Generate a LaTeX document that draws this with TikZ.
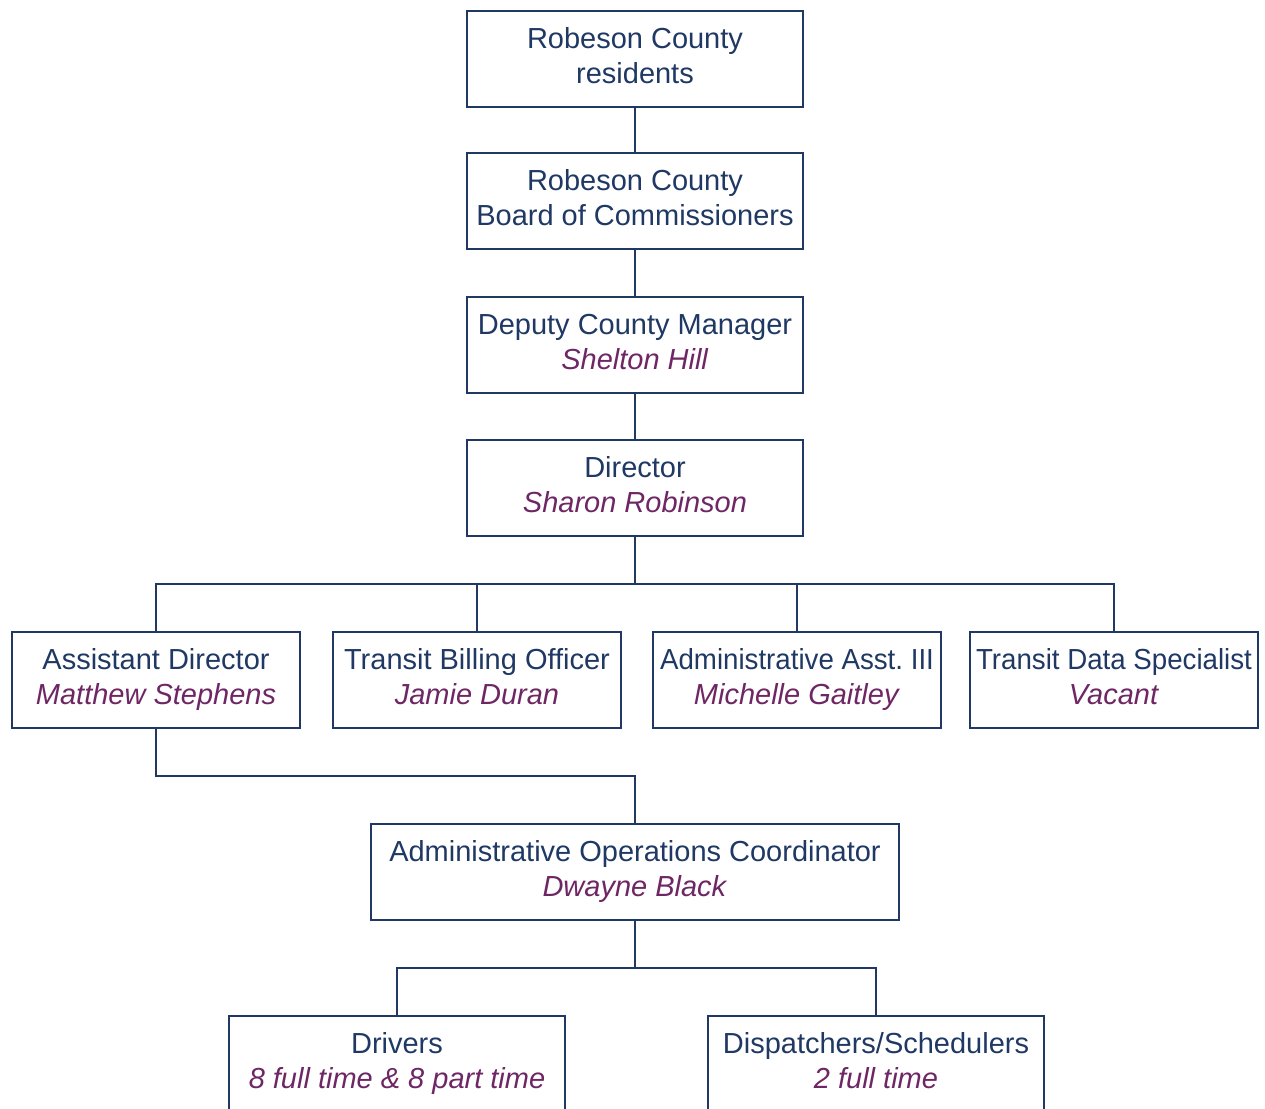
\documentclass[tikz,border=0pt]{standalone}
\usepackage{fontspec}
\setmainfont{Liberation Sans}
\usepackage{tikz}
\usetikzlibrary{positioning, calc}

\definecolor{navy}{RGB}{31,56,100}
\definecolor{plum}{RGB}{110,38,100}
\newcommand{\post}[2]{\strut#1\\\strut\textcolor{plum}{\textit{#2}}}
\frenchspacing

\begin{document}
\begin{tikzpicture}[x=0.02cm, y=-0.02cm,
    box/.style={draw=navy, line width=1.4pt, text=navy, align=center, inner sep=0pt,
        minimum height=1.92cm, font=\fontsize{16.5}{19.8}\selectfont},
    wide/.style={box, minimum width=6.72cm},
    mid/.style={box, minimum width=5.76cm},
    link/.style={draw=navy, line width=1.4pt}]
    \useasboundingbox (0,0) rectangle (1265,1109);

    % Top chain
    \node[wide] (res) at (635,59) {\strut Robeson County\\\strut residents};
    \node[wide] (board) at (635,201) {\strut Robeson County\\\strut Board of Commissioners};
    \node[wide] (dcm) at (635,345) {\post{Deputy County Manager}{Shelton Hill}};
    \node[wide] (dir) at (635,488) {\post{Director}{Sharon Robinson}};

    % Staff row
    \node[mid] (asst) at (156,680) {\post{Assistant Director}{Matthew Stephens}};
    \node[mid] (bill) at (477,680) {\post{Transit Billing Officer}{Jamie Duran}};
    \node[mid] (adm) at (797,680) {\post{\scalebox{0.955}[1]{Administrative Asst. III}}{Michelle Gaitley}};
    \node[mid] (data) at (1114,680) {\post{\scalebox{0.955}[1]{Transit Data Specialist}}{Vacant}};

    % Operations
    \node[box, minimum width=10.56cm] (aoc) at (635,872) {\post{Administrative Operations Coordinator}{Dwayne Black}};
    \node[wide] (drv) at (397,1064) {\post{Drivers}{8 full time \& 8 part time}};
    \node[wide] (disp) at (876,1064) {\post{Dispatchers/Schedulers}{2 full time}};

    % Connectors
    \coordinate (bus) at (635,584);
    \coordinate (elbow) at (635,776);
    \coordinate (bus2) at (635,968);
    \draw[link] (res) -- (board);
    \draw[link] (board) -- (dcm);
    \draw[link] (dcm) -- (dir);
    \draw[link] (dir) -- (bus);
    \draw[link] (asst.north) |- (bus) -| (data.north);
    \draw[link] (bill.north) -- (bill.north |- bus);
    \draw[link] (adm.north) -- (adm.north |- bus);
    \draw[link] (asst.south) |- (elbow) -- (aoc.north);
    \draw[link] (aoc) -- (bus2);
    \draw[link] (drv.north) |- (bus2) -| (disp.north);
\end{tikzpicture}
\end{document}
